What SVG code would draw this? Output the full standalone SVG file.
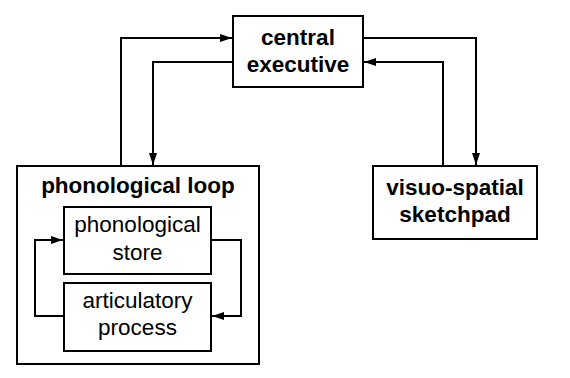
<svg xmlns="http://www.w3.org/2000/svg" width="570" height="378" viewBox="0 0 570 378">
<defs>
<marker id="ah" viewBox="0 0 12 8" refX="12" refY="4" markerWidth="12" markerHeight="8" markerUnits="userSpaceOnUse" orient="auto">
<path d="M0,0 L12,4 L0,8 Z" fill="#000"/>
</marker>
</defs>
<style>
.box{fill:#fff;stroke:#000;stroke-width:2}
.con{fill:none;stroke:#000;stroke-width:2;marker-end:url(#ah)}
text{font-family:"Liberation Sans",Arial,sans-serif;font-size:22.5px;text-anchor:middle;fill:#000}
.b{font-weight:bold}
</style>
<rect width="570" height="378" fill="#fff"/>
<g id="phonological-loop">
<rect class="box" x="17" y="166" width="242" height="198"/>
<text class="b" x="138" y="193">phonological loop</text>
</g>
<g id="central-executive">
<rect class="box" x="233" y="16" width="130" height="71"/>
<text class="b" x="298" y="45">central</text>
<text class="b" x="298" y="72">executive</text>
</g>
<g id="visuo-spatial-sketchpad">
<rect class="box" x="373" y="166" width="164" height="73"/>
<text class="b" x="455" y="195">visuo-spatial</text>
<text class="b" x="455" y="222">sketchpad</text>
</g>
<g id="phonological-store">
<rect class="box" x="64" y="207" width="147" height="67"/>
<text x="137.5" y="232">phonological</text>
<text x="137.5" y="260">store</text>
</g>
<g id="articulatory-process">
<rect class="box" x="64" y="283" width="147" height="68"/>
<text x="137.5" y="308">articulatory</text>
<text x="137.5" y="335">process</text>
</g>
<g id="connectors">
<path class="con" d="M121,166 V38 H232"/>
<path class="con" d="M233,62 H153 V165"/>
<path class="con" d="M363,38 H476 V165"/>
<path class="con" d="M443,166 V62 H364"/>
<path class="con" d="M64,316 H35 V240 H63"/>
<path class="con" d="M211,240 H241 V316 H212"/>
</g>
</svg>
